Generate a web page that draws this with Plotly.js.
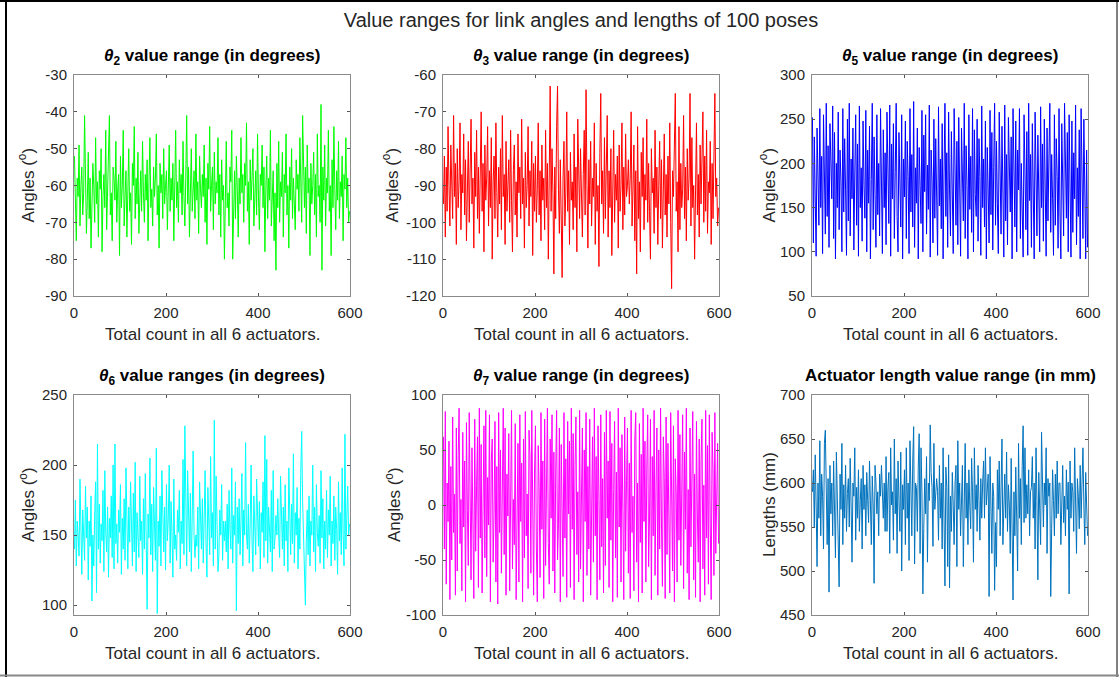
<!DOCTYPE html>
<html>
<head>
<meta charset="utf-8">
<script src="https://cdn.plot.ly/plotly-3.0.1.min.js"></script>
<style>html,body{margin:0;padding:0;background:#fff;}#chart{width:1119px;height:677px;}</style>
</head>
<body>
<div id="chart"></div>
<script>
const mainTitle = "Value ranges for link angles and lengths of 100 poses";
const xLabel = "Total count in all 6 actuators.";
const xTicks = [0, 200, 400, 600];
const countStep = 2;

const theta2 = [-52,-66,-75,-58,-63,-49,-71,-60,-55,-68,-62,-41,-57,-73,-64,-51,-69,-58,-77,-62,
-54,-60,-70,-47,-65,-59,-74,-56,-61,-50,-78,-63,-57,-66,-45,-72,-60,-53,-41,-68,
-62,-75,-55,-58,-64,-48,-70,-61,-57,-79,-52,-66,-60,-45,-71,-63,-56,-74,-59,-50,
-67,-62,-76,-54,-60,-44,-69,-58,-65,-51,-73,-61,-56,-67,-48,-62,-70,-57,-64,-53,
-75,-59,-47,-66,-61,-71,-55,-63,-58,-46,-68,-60,-77,-54,-62,-57,-69,-50,-65,-60,
-56,-72,-61,-49,-67,-58,-64,-54,-75,-60,-45,-66,-59,-70,-53,-62,-57,-68,-48,-63,
-71,-58,-41,-65,-55,-74,-60,-50,-67,-62,-56,-69,-46,-64,-59,-73,-52,-61,-66,-57,
-63,-49,-70,-58,-76,-54,-61,-44,-67,-60,-55,-72,-51,-65,-59,-62,-47,-68,-57,-74,
-53,-64,-60,-80,-58,-48,-66,-62,-71,-55,-59,-45,-80,-63,-56,-69,-52,-61,-74,-58,
-65,-47,-62,-57,-70,-54,-60,-43,-67,-59,-76,-53,-64,-58,-50,-71,-61,-56,-68,-46,
-63,-72,-57,-60,-49,-66,-55,-78,-61,-52,-69,-58,-64,-45,-71,-60,-56,-75,-62,-83,
-54,-66,-48,-70,-59,-63,-51,-74,-57,-62,-46,-68,-60,-77,-55,-64,-50,-69,-58,-65,
-72,-53,-61,-57,-67,-47,-63,-70,-41,-59,-66,-55,-73,-49,-62,-58,-79,-54,-65,-60,
-51,-68,-57,-74,-46,-63,-60,-70,-38,-83,-55,-64,-49,-71,-58,-62,-45,-67,-60,-79,
-53,-66,-44,-61,-72,-56,-64,-48,-69,-59,-63,-52,-75,-57,-61,-47,-66,-58,-70,-67];

const theta3 = [-95,-82,-104,-85,-97,-74,-90,-101,-79,-88,-99,-71,-93,-84,-106,-80,-96,-89,-73,-102,
-87,-92,-76,-98,-83,-105,-90,-78,-100,-86,-72,-95,-88,-107,-81,-93,-75,-99,-85,-103,
-91,-70,-97,-84,-108,-79,-94,-88,-74,-101,-86,-96,-77,-110,-89,-82,-99,-73,-92,-104,
-85,-95,-80,-102,-71,-93,-87,-106,-78,-97,-90,-83,-100,-75,-94,-108,-86,-79,-98,-89,
-104,-76,-92,-85,-99,-72,-95,-88,-107,-81,-96,-90,-74,-101,-86,-93,-78,-109,-84,-97,
-82,-100,-91,-73,-98,-86,-105,-79,-94,-88,-102,-75,-96,-84,-110,-89,-63,-97,-80,-92,
-114,-85,-99,-74,-63,-91,-103,-83,-95,-115,-88,-78,-101,-92,-70,-97,-86,-106,-81,-94,
-89,-102,-76,-96,-85,-108,-72,-93,-99,-80,-91,-104,-87,-75,-98,-64,-90,-107,-83,-95,
-78,-101,-88,-93,-73,-106,-84,-97,-90,-112,-81,-65,-95,-86,-103,-77,-99,-89,-71,-104,
-86,-96,-80,-109,-92,-75,-100,-87,-94,-82,-107,-79,-97,-90,-73,-102,-85,-98,-76,-93,
-90,-83,-95,-88,-70,-101,-91,-79,-105,-86,-114,-74,-99,-89,-108,-81,-93,-77,-102,-87,
-94,-72,-100,-84,-97,-110,-80,-92,-88,-103,-75,-96,-85,-106,-90,-78,-99,-83,-107,-91,
-76,-98,-87,-104,-82,-95,-73,-100,-118,-86,-93,-79,-65,-97,-89,-108,-74,-102,-84,-96,
-91,-71,-99,-85,-105,-80,-94,-88,-65,-101,-77,-96,-90,-110,-83,-73,-98,-87,-104,-79,
-95,-86,-70,-100,-82,-97,-75,-103,-89,-92,-78,-106,-84,-99,-72,-65,-93,-88,-101,-96];

const theta5 = [252,110,230,165,95,240,185,130,262,150,208,98,255,175,120,268,140,220,105,245,
190,160,265,115,235,92,200,150,258,125,215,180,100,262,145,228,170,96,250,135,
268,118,205,160,240,102,188,255,130,222,95,265,150,195,112,248,175,138,260,100,
215,155,242,92,182,268,125,230,165,105,255,142,200,118,262,170,98,238,150,212,
108,258,178,132,266,95,222,160,245,115,190,268,140,100,235,172,128,255,92,205,
162,248,115,225,185,98,262,145,210,128,270,105,195,155,240,92,218,175,132,260,
100,232,168,255,120,198,148,266,94,215,180,110,250,138,228,162,96,264,152,205,
126,245,92,190,268,140,212,105,258,170,118,236,150,98,262,182,130,225,108,252,
160,95,240,200,135,268,115,220,175,92,255,148,208,122,262,100,238,165,140,250,
112,228,185,96,265,150,205,128,248,92,218,170,110,260,142,235,102,195,268,130,
225,155,98,258,180,120,242,162,94,266,135,210,108,252,175,145,230,92,262,188,
128,248,100,215,170,262,115,200,148,94,255,182,125,236,96,268,158,210,105,245,
142,92,258,190,118,232,165,100,264,150,222,112,250,178,95,240,135,205,268,122,
210,160,96,255,130,228,185,104,262,145,92,245,170,118,268,200,138,235,100,255,
175,94,248,122,212,160,266,108,195,140,238,92,262,178,115,250,152,92,215,105];

const theta6 = [140,175,128,160,150,135,190,145,122,168,155,132,185,148,170,118,160,142,178,103,
150,128,165,188,109,215,140,172,130,158,146,182,124,196,152,138,170,120,162,148,
178,134,200,126,215,144,158,130,168,152,186,122,162,140,176,132,198,150,126,170,
145,188,160,128,180,138,202,124,166,150,134,192,146,160,122,176,140,194,130,97,
165,148,205,136,172,124,184,150,132,212,94,160,142,178,128,196,154,138,170,125,
186,146,162,200,130,174,150,120,190,140,150,132,168,152,182,126,160,144,204,136,
228,148,128,196,158,138,180,124,164,210,150,134,150,142,170,126,188,152,140,176,
130,162,196,144,120,184,154,136,206,148,166,128,232,140,192,158,124,136,168,150,
186,132,160,146,160,138,172,126,182,154,140,198,130,164,150,188,96,170,144,176,
136,160,194,128,168,150,216,150,140,172,130,158,200,146,124,178,152,136,190,162,
142,174,126,166,152,188,134,221,146,204,130,170,150,138,182,124,196,140,148,164,
150,176,150,134,192,158,140,170,128,186,146,160,124,198,152,136,172,144,208,130,
166,150,184,126,162,140,194,224,174,154,120,100,146,168,136,178,128,160,150,200,
138,170,124,186,152,142,164,130,196,148,176,126,160,140,182,134,168,150,192,128,
160,144,178,132,170,154,122,188,146,166,136,198,150,128,222,140,162,185,150,158];

const theta7 = [62,-40,85,-72,20,-15,58,-86,35,-50,80,-25,10,-82,70,-60,45,88,-35,5,
-78,66,-20,40,-88,75,-5,-55,84,30,-68,52,-12,-85,78,-42,18,62,-75,88,
-30,55,-80,12,72,-48,86,-65,25,-18,82,-88,40,60,-52,-8,76,-70,35,-90,
84,-25,50,-62,15,88,-45,70,-82,28,-10,65,-78,42,86,-58,5,-36,74,-86,
20,56,-70,82,-15,38,-88,60,-48,85,-28,10,-76,68,45,-62,86,-5,-82,30,
72,-40,-88,54,16,-66,84,-22,40,-85,78,-55,25,88,-35,-72,60,-12,82,-60,
48,-80,30,86,-50,-18,70,-88,55,10,-65,84,-30,42,-84,76,-8,58,-75,88,
-22,65,-86,36,80,-45,12,-70,86,-58,28,70,-88,50,-15,84,-64,35,-40,78,
-82,18,62,-52,88,-28,44,-86,72,5,-68,82,-38,24,-80,66,-55,86,-12,40,
-75,85,-32,56,-88,14,76,-48,30,-84,88,-20,52,-70,64,-5,-86,80,-42,22,
70,-62,38,-85,86,-25,8,-78,60,84,-52,20,-88,74,-34,46,-80,88,-15,58,
-70,32,82,-56,-10,78,-86,44,-28,86,-64,16,70,-82,50,-40,88,-20,-74,62,
25,-85,80,-45,56,-12,-80,84,30,-60,72,-88,42,10,-70,86,-32,64,-55,20,
82,-76,48,-22,88,-62,14,-86,70,-38,52,85,-68,28,-84,76,-10,-52,60,-88,
40,78,-58,18,-82,86,-30,54,-72,82,-18,-86,66,32,-64,84,-44,8,56,-35];

const actuatorLength = [590,615,550,632,575,505,600,560,648,540,610,585,525,645,660,570,530,605,476,620,
565,600,540,625,580,515,635,590,555,482,610,570,645,530,598,560,620,545,588,605,
550,628,575,510,600,585,640,535,595,560,615,545,580,605,525,620,570,598,540,612,
580,555,625,590,530,608,575,486,620,600,565,590,540,610,585,620,575,560,600,545,
630,545,595,612,520,640,575,590,535,650,565,605,520,625,580,545,635,500,598,570,
615,530,640,560,600,512,648,585,540,625,664,508,600,595,545,618,656,520,640,590,
474,548,605,565,630,510,600,580,666,612,595,528,645,570,585,605,590,535,620,560,
600,525,640,575,483,618,595,505,632,481,585,545,612,575,530,600,620,505,648,570,
600,540,598,620,505,585,645,560,600,530,615,575,548,628,590,510,640,570,598,545,
620,580,535,605,560,600,625,560,640,575,590,610,471,630,575,520,600,585,478,555,
505,615,570,625,540,600,650,530,585,610,560,635,545,598,575,520,628,560,467,590,
540,618,575,500,645,560,605,530,620,665,555,640,560,598,565,615,540,590,595,630,
560,600,525,640,580,490,612,570,530,658,618,550,600,575,640,520,605,585,600,471,
548,615,580,540,610,560,625,565,600,600,530,595,620,555,585,540,615,570,601,474,
625,560,600,590,545,640,575,520,605,585,548,620,560,598,640,575,530,612,580,540];

const panelTitles = [
  "<b><i>θ</i><sub>2</sub> value range (in degrees)</b>",
  "<b><i>θ</i><sub>3</sub> value range (in degrees)</b>",
  "<b><i>θ</i><sub>5</sub> value range (in degrees)</b>",
  "<b><i>θ</i><sub>6</sub> value ranges (in degrees)</b>",
  "<b><i>θ</i><sub>7</sub> value range (in degrees)</b>",
  "<b>Actuator length value range (in mm)</b>"
];
const yLabels = ["Angles (<sup>o</sup>)","Angles (<sup>o</sup>)","Angles (<sup>o</sup>)","Angles (<sup>o</sup>)","Angles (<sup>o</sup>)","Lengths (mm)"];
const yRanges = [[-90,-30],[-120,-60],[50,300],[93,250],[-100,100],[450,700]];
const yTicks = [[-90,-80,-70,-60,-50,-40,-30],[-120,-110,-100,-90,-80,-70,-60],[50,100,150,200,250,300],[100,150,200,250],[-100,-50,0,50,100],[450,500,550,600,650,700]];
const seriesList = [theta2, theta3, theta5, theta6, theta7, actuatorLength];
const colors = ["#00ff00","#ff0000","#0000ff","#00ffff","#ff00ff","#0072bd"];

const W = 1119, H = 677;
const colPx = [[74,350],[443,719],[812,1088]];
const rowPx = [[75,296],[395,615]];
const yTitleX = [27, 391, 768, 27, 393, 769];
const titleGap = [5, 5, 5, 5, 5, 8];
const font = "Liberation Sans, Arial, sans-serif";
const txt = "#262626";

const traces = [];
const layout = {
  width: W, height: H, autosize: false,
  margin: {l:0, r:0, t:0, b:0},
  paper_bgcolor: "#fff", plot_bgcolor: "#fff",
  showlegend: false,
  font: {family: font, color: txt, size: 15},
  title: {text: mainTitle, x: 581/W, xanchor: "center", y: 1 - 20/H, yanchor: "middle", font: {size: 20, color: txt, family: font}},
  annotations: [],
  shapes: [
    {type:"line", xref:"paper", yref:"paper", x0: 6/W, x1: 6/W, y0: 0, y1: 1, line:{color:"#000", width:2}},
    {type:"line", xref:"paper", yref:"paper", x0: 0, x1: 1, y0: 1 - 1/H, y1: 1 - 1/H, line:{color:"#000", width:2}},
    {type:"line", xref:"paper", yref:"paper", x0: 1117/W, x1: 1117/W, y0: 0, y1: 1, line:{color:"#000", width:1}},
    {type:"line", xref:"paper", yref:"paper", x0: 0, x1: 1, y0: 1 - 675.5/H, y1: 1 - 675.5/H, line:{color:"#888", width:2}}
  ]
};

for (let k = 0; k < 6; k++) {
  const r = Math.floor(k / 3), c = k % 3;
  const ys = seriesList[k];
  const xs = ys.map((_, i) => 1 + i * countStep);
  const ax = k === 0 ? "" : String(k + 1);
  traces.push({type:"scatter", mode:"lines", x: xs, y: ys, xaxis: "x" + ax, yaxis: "y" + ax,
    line: {color: colors[k], width: 1}, hoverinfo: "skip"});
  const common = {showline: true, mirror: "allticks", linecolor: "#8a8a8a", linewidth: 1,
    ticks: "inside", ticklen: 3, tickcolor: "#555", tickwidth: 1, showgrid: false, zeroline: false,
    tickfont: {size: 15, color: txt, family: font}};
  layout["xaxis" + ax] = Object.assign({}, common, {
    domain: [colPx[c][0]/W, colPx[c][1]/W], anchor: "y" + ax, range: [0, 600],
    tickvals: xTicks, ticktext: xTicks.map(String), ticklabelstandoff: 3
  });
  layout["yaxis" + ax] = Object.assign({}, common, {
    domain: [1 - rowPx[r][1]/H, 1 - rowPx[r][0]/H], anchor: "x" + ax, range: yRanges[k],
    tickvals: yTicks[k], ticktext: yTicks[k].map(String), ticklabelstandoff: 3
  });
  const cx = (colPx[c][0] + colPx[c][1]) / 2 / W;
  layout.annotations.push({text: panelTitles[k], xref: "paper", yref: "paper",
    x: cx, y: 1 - (rowPx[r][0] - titleGap[k]) / H,
    xanchor: "center", yanchor: "bottom", showarrow: false,
    font: {size: 17, color: "#000", family: font}});
  layout.annotations.push({text: xLabel, xref: "paper", yref: "paper",
    x: cx, y: 1 - (rowPx[r][1] + 38) / H,
    xanchor: "center", yanchor: "middle", showarrow: false,
    font: {size: 17, color: txt, family: font}});
  layout.annotations.push({text: yLabels[k], xref: "paper", yref: "paper", textangle: -90,
    x: yTitleX[k] / W, y: 1 - (rowPx[r][0] + rowPx[r][1]) / 2 / H,
    xanchor: "center", yanchor: "middle", showarrow: false,
    font: {size: 17, color: txt, family: font}});
}

Plotly.newPlot("chart", traces, layout, {displayModeBar: false, staticPlot: true});
</script>
</body>
</html>
